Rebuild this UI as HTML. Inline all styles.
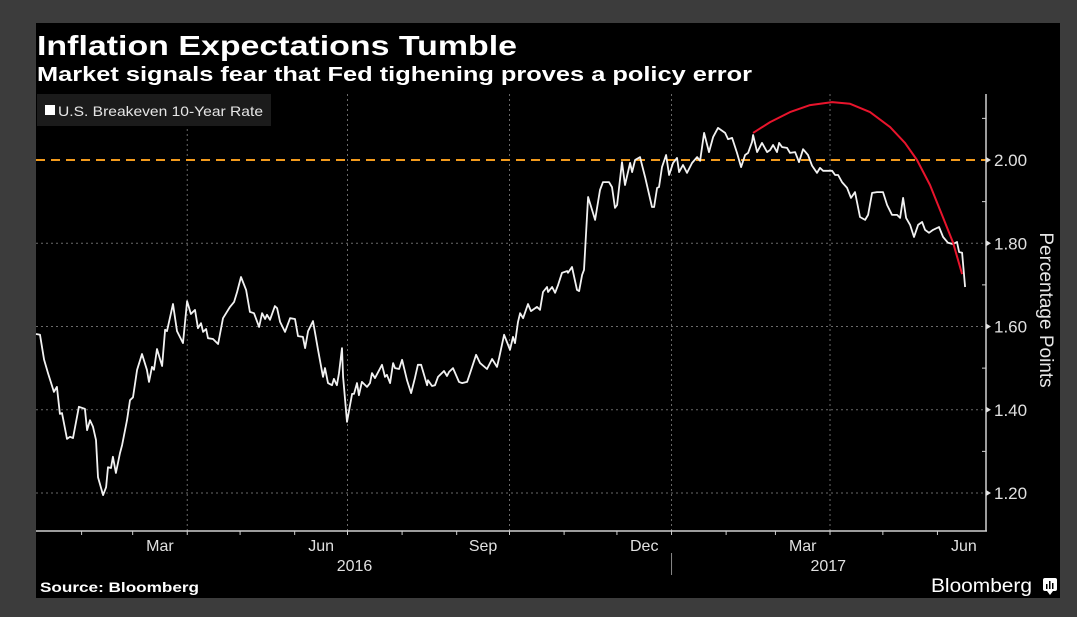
<!DOCTYPE html>
<html><head><meta charset="utf-8"><style>
html,body{margin:0;padding:0;background:#3c3c3c;}
svg{display:block;font-family:"Liberation Sans","DejaVu Sans",sans-serif;}
</style></head><body>
<svg id="chart" width="1077" height="617">
<rect x="0" y="0" width="1077" height="617" fill="#3c3c3c"/>
<rect x="36" y="23" width="1024" height="575" fill="#000"/>
<text x="37" y="55" fill="#fff" font-size="28" font-weight="bold" textLength="480" lengthAdjust="spacingAndGlyphs">Inflation Expectations Tumble</text>
<text x="37" y="81" fill="#fff" font-size="20" font-weight="bold" textLength="715" lengthAdjust="spacingAndGlyphs">Market signals fear that Fed tighening proves a policy error</text>
<g id="grid"></g>
<g id="axes"></g>
<g id="marks"></g>
<g>
<rect x="37" y="94" width="234" height="32" fill="#1b1b1b"/>
<rect x="45" y="105" width="10" height="10" fill="#fff"/>
<text x="58" y="116" fill="#e6e6e6" font-size="14" textLength="205" lengthAdjust="spacingAndGlyphs">U.S. Breakeven 10-Year Rate</text>
</g>
<text x="40" y="592" fill="#fff" font-size="14" font-weight="bold" textLength="159" lengthAdjust="spacingAndGlyphs">Source: Bloomberg</text>
<text x="931" y="592" fill="#fff" font-size="19" textLength="101" lengthAdjust="spacingAndGlyphs">Bloomberg</text>
<g>
<rect x="1043" y="578" width="14" height="13" rx="2" fill="#fff"/>
<path d="M1047 591 L1050 595 L1053 591Z" fill="#fff"/>
<rect x="1046" y="584" width="1.5" height="5" fill="#000"/><rect x="1049" y="581" width="1.5" height="8" fill="#000"/><rect x="1052" y="583" width="1.5" height="6" fill="#000"/>
</g>
<text transform="translate(1040,310) rotate(90)" text-anchor="middle" fill="#e6e6e6" font-size="19">Percentage Points</text>
</svg>
<script>
// Data: days since 2016-01-01, and rate values (%)
const days = [5.1,7.4,9.7,11.9,15.3,17.0,18.7,19.9,22.7,24.4,26.1,29.5,32.9,34.1,35.8,37.5,39.2,40.3,43.2,44.9,46.0,47.7,48.8,50.5,52.8,54.0,56.8,58.5,60.2,62.5,65.3,68.1,69.3,71.0,72.1,73.8,76.7,78.4,79.5,82.9,85.2,88.6,90.9,93.1,95.4,97.1,98.8,100.0,101.7,102.8,105.6,108.5,111.3,115.3,117.6,119.3,121.5,124.4,126.6,128.9,131.8,133.5,135.2,136.3,138.0,140.8,142.0,143.7,146.5,149.4,152.2,153.9,156.7,157.9,159.6,162.4,165.3,168.1,169.2,170.9,173.2,174.3,176.0,177.2,178.9,179.5,181.7,184.6,185.7,187.4,188.5,190.2,193.1,194.8,195.9,197.6,201.6,203.3,204.4,206.2,207.9,209.0,211.3,213.0,215.8,218.1,220.3,222.0,223.8,227.2,227.7,230.0,231.7,233.4,236.8,238.5,239.7,241.9,245.3,247.0,249.9,251.6,255.0,257.3,261.2,264.1,266.9,268.1,270.9,274.3,276.0,277.1,278.8,280.0,281.7,284.5,286.2,289.6,291.3,293.0,295.3,295.9,298.2,299.9,301.6,303.8,306.7,307.2,309.5,312.3,313.5,315.2,316.3,318.6,322.6,325.4,327.1,330.5,332.2,333.9,335.1,337.9,339.6,342.5,343.6,345.3,348.1,351.0,354.9,356.1,357.8,358.9,360.6,362.9,364.6,366.9,369.1,370.3,372.5,374.8,377.7,380.5,382.2,384.5,387.3,389.6,392.4,396.4,398.1,400.4,403.2,405.5,407.8,409.5,411.7,412.3,414.6,417.4,420.3,422.0,423.7,425.9,427.1,428.8,431.6,433.3,436.2,438.4,440.7,443.5,445.8,448.6,450.3,452.1,457.2,458.9,460.6,462.8,465.7,467.9,470.2,473.0,475.9,477.6,479.9,482.7,486.1,488.4,491.2,494.1,495.8,497.5,499.2,501.5,503.7,506.0,508.3,510.0,512.2,514.5,517.9,520.2,523.0,525.9,528.1,529.3,531.0,532.7];
const rates = [1.582,1.580,1.520,1.488,1.443,1.455,1.390,1.392,1.330,1.335,1.332,1.407,1.402,1.351,1.375,1.359,1.327,1.238,1.195,1.214,1.262,1.260,1.287,1.248,1.296,1.315,1.375,1.423,1.430,1.496,1.534,1.496,1.467,1.503,1.496,1.546,1.505,1.592,1.589,1.654,1.589,1.560,1.661,1.630,1.640,1.596,1.608,1.587,1.594,1.572,1.570,1.558,1.620,1.647,1.659,1.683,1.719,1.688,1.635,1.632,1.599,1.632,1.618,1.628,1.616,1.649,1.644,1.611,1.587,1.620,1.618,1.577,1.575,1.548,1.589,1.613,1.543,1.479,1.500,1.464,1.459,1.474,1.459,1.488,1.548,1.479,1.371,1.438,1.438,1.464,1.435,1.467,1.455,1.464,1.488,1.476,1.508,1.479,1.484,1.464,1.512,1.500,1.498,1.520,1.471,1.440,1.476,1.508,1.508,1.459,1.471,1.457,1.459,1.479,1.493,1.481,1.491,1.500,1.467,1.464,1.467,1.488,1.532,1.512,1.498,1.522,1.503,1.524,1.580,1.544,1.575,1.560,1.611,1.632,1.620,1.654,1.637,1.647,1.640,1.683,1.695,1.683,1.695,1.681,1.700,1.729,1.733,1.729,1.743,1.688,1.685,1.724,1.736,1.911,1.856,1.928,1.947,1.947,1.935,1.885,1.892,1.995,1.940,1.993,1.971,2.000,2.007,1.959,1.887,1.887,1.933,1.935,1.983,2.012,1.964,1.993,2.005,1.971,1.988,1.969,1.993,2.007,1.998,2.065,2.019,2.055,2.077,2.065,2.050,2.053,2.017,1.983,2.012,2.017,2.043,2.060,2.019,2.041,2.019,2.024,2.036,2.019,2.041,2.031,2.029,2.017,2.019,1.995,2.026,2.012,1.986,1.969,1.981,1.974,1.974,1.964,1.964,1.947,1.933,1.909,1.923,1.863,1.856,1.868,1.921,1.923,1.923,1.892,1.868,1.868,1.861,1.909,1.861,1.844,1.815,1.844,1.851,1.832,1.825,1.832,1.839,1.815,1.801,1.798,1.803,1.779,1.777,1.695];
const arcDays = [412.3,422,433.3,444.7,457.2,467.4,478.7,490.1,498.6,505.4,512.8,519.6,525.9,531];
const arcRates = [2.065,2.091,2.115,2.132,2.139,2.135,2.115,2.079,2.041,2.000,1.940,1.868,1.801,1.726];
const refLevel = 2.00;
const yTicks = [1.20,1.40,1.60,1.80,2.00];
const yMinorTicks = [1.30,1.50,1.70,1.90,2.10];
const monthStarts = [31,60,91,121,152,182,213,244,274,305,335,366,397,425,456,486,517];
const quarterStarts = [91,182,274,366,456];
const monthLabels = ["Mar","Jun","Sep","Dec","Mar","Jun"];
const monthLabelDays = [60,152,244,335,425,517];
const monthLabelLen = [31,30,30,31,31,30];
const yearLabels = ["2016","2017"];
const yearLabelDays = [186,455];
const yearDividerDay = 366;

const NS = "http://www.w3.org/2000/svg";
const X0 = 36, X1 = 986, YT = 94, YB = 531;
function xs(d){ return 27 + d * 1.761; }
function ys(v){ return 160 + (2 - v) * 416.25; }
function mk(tag, attrs, parent){ const e = document.createElementNS(NS, tag); for (const k in attrs) e.setAttribute(k, attrs[k]); parent.appendChild(e); return e; }
const grid = document.getElementById('grid'), axes = document.getElementById('axes'), marks = document.getElementById('marks');

yTicks.forEach(v => {
  if (v === refLevel) return;
  const l = mk('line', {x1:X0, x2:X1, y1:ys(v), y2:ys(v), stroke:'#6a6a6a', 'stroke-width':1, 'stroke-dasharray':'2 3'}, grid);
  
  
});
quarterStarts.forEach(d => {
  const l = mk('line', {x1:xs(d), x2:xs(d), y1:YT, y2:YB, stroke:'#6a6a6a', 'stroke-width':1, 'stroke-dasharray':'2 3'}, grid);
  
  
});
const ref = mk('line', {x1:X0, x2:X1, y1:ys(refLevel), y2:ys(refLevel), stroke:'#f29b1d', 'stroke-width':2, 'stroke-dasharray':'9 6'}, grid);



const xa = mk('line', {x1:X0, x2:X1+1, y1:YB, y2:YB, stroke:'#d0d0d0', 'stroke-width':1.5}, axes);


const ya = mk('line', {x1:X1, x2:X1, y1:YT, y2:YB, stroke:'#d0d0d0', 'stroke-width':1.5}, axes);


yTicks.forEach(v => {
  const t = mk('path', {d:`M${X1} ${ys(v)-3} L${X1+5} ${ys(v)} L${X1} ${ys(v)+3}Z`, fill:'#e0e0e0'}, axes);
  
  
  const tx = mk('text', {x:X1+8, y:ys(v)+6, fill:'#e0e0e0', 'font-size':17}, axes);
  tx.textContent = v.toFixed(2);
  
  
});
yMinorTicks.forEach(v => {
  const t = mk('line', {x1:X1-4, x2:X1, y1:ys(v), y2:ys(v), stroke:'#d0d0d0', 'stroke-width':1}, axes);
  
  
});
monthStarts.forEach(d => {
  const t = mk('line', {x1:xs(d), x2:xs(d), y1:YB, y2:YB+4, stroke:'#d0d0d0', 'stroke-width':1}, axes);
  
  
});
monthLabels.forEach((m, i) => {
  const t = mk('text', {x:xs(monthLabelDays[i] + monthLabelLen[i]/2), y:551, fill:'#e0e0e0', 'font-size':16, 'text-anchor':'middle'}, axes);
  t.textContent = m;
  
  
});
yearLabels.forEach((y, i) => {
  const t = mk('text', {x:xs(yearLabelDays[i]), y:571, fill:'#e0e0e0', 'font-size':16, 'text-anchor':'middle'}, axes);
  t.textContent = y;
  
  
});
const dv = mk('line', {x1:xs(yearDividerDay), x2:xs(yearDividerDay), y1:553, y2:575, stroke:'#888', 'stroke-width':1}, axes);



const line = mk('polyline', {points: days.map((d,i)=>xs(d).toFixed(1)+','+ys(rates[i]).toFixed(1)).join(' '), fill:'none', stroke:'#f2f2f2', 'stroke-width':1.8, 'stroke-linejoin':'round'}, marks);


let ad = 'M' + xs(arcDays[0]) + ' ' + ys(arcRates[0]);
for (let i = 1; i < arcDays.length; i++) ad += ' L' + xs(arcDays[i]).toFixed(1) + ' ' + ys(arcRates[i]).toFixed(1);
const arc = mk('path', {d:ad, fill:'none', stroke:'#e8142c', 'stroke-width':2, 'stroke-linejoin':'round'}, marks);


</script>
</body></html>
